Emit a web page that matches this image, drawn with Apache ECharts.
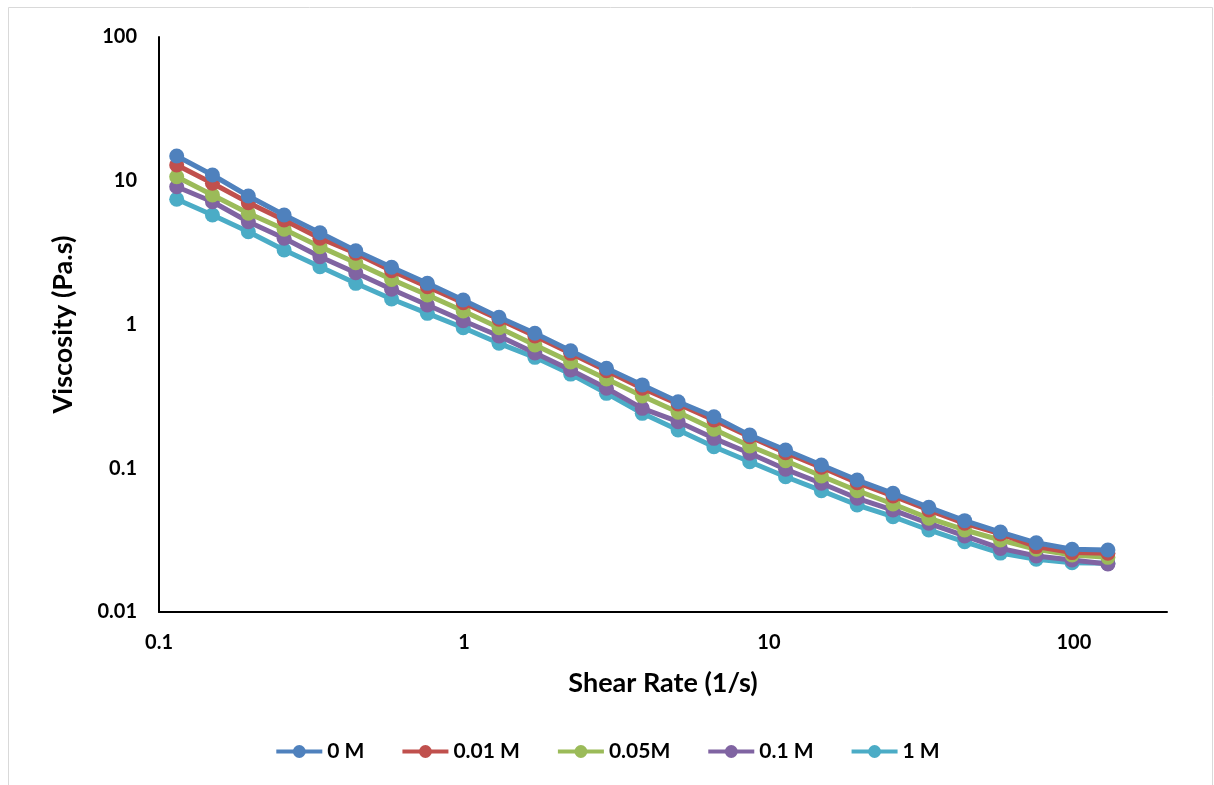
<!DOCTYPE html>
<html>
<head>
<meta charset="utf-8">
<script src="https://cdn.jsdelivr.net/npm/echarts@6/dist/echarts.min.js"></script>
<style>
html,body{margin:0;padding:0;background:#fff;}
#chart{width:1214px;height:785px;}
</style>
</head>
<body>
<div id="chart"></div>
<script>
// Shear rate (1/s)
var shearRate = [0.1143, 0.1497, 0.1963, 0.2572, 0.3371, 0.4417, 0.5789, 0.7587, 0.9943, 1.303,
  1.708, 2.238, 2.933, 3.843, 5.037, 6.601, 8.650, 11.34, 14.86, 19.47,
  25.52, 33.44, 43.83, 57.43, 75.27, 98.63, 129.3];
// Viscosity (Pa.s)
var visc0M = [14.86, 10.96, 7.83, 5.78, 4.35, 3.26, 2.50, 1.934, 1.481, 1.122,
  0.869, 0.657, 0.496, 0.380, 0.290, 0.228, 0.170, 0.134, 0.1053, 0.0828,
  0.0669, 0.0535, 0.0432, 0.0360, 0.0303, 0.0273, 0.0270];
var visc001M = [12.87, 9.60, 7.04, 5.33, 3.98, 3.13, 2.37, 1.832, 1.418, 1.087,
  0.832, 0.630, 0.477, 0.360, 0.280, 0.2166, 0.1658, 0.1283, 0.1015, 0.0793,
  0.0641, 0.0512, 0.0414, 0.0349, 0.0285, 0.0259, 0.0256];
var visc005M = [10.67, 7.96, 5.94, 4.60, 3.48, 2.69, 2.06, 1.604, 1.241, 0.950,
  0.720, 0.548, 0.418, 0.318, 0.245, 0.1866, 0.1428, 0.1128, 0.0883, 0.0698,
  0.0564, 0.0449, 0.0372, 0.0317, 0.0273, 0.0249, 0.0240];
var visc01M = [9.09, 7.15, 5.19, 3.98, 2.96, 2.29, 1.757, 1.367, 1.063, 0.832,
  0.633, 0.483, 0.360, 0.261, 0.2108, 0.1615, 0.1271, 0.0983, 0.0786, 0.0618,
  0.0512, 0.0414, 0.0338, 0.0277, 0.0245, 0.0230, 0.0216];
var visc1M = [7.43, 5.78, 4.42, 3.30, 2.52, 1.934, 1.504, 1.196, 0.950, 0.740,
  0.591, 0.452, 0.332, 0.241, 0.1845, 0.1412, 0.1110, 0.0873, 0.0698, 0.0555,
  0.0460, 0.0372, 0.0308, 0.0257, 0.0233, 0.0220, 0.0218];
var seriesNames = ['0 M', '0.01 M', '0.05M', '0.1 M', '1 M'];
var seriesValues = [visc0M, visc001M, visc005M, visc01M, visc1M];
var colors = ['#4F81BD', '#C0504D', '#9BBB59', '#8064A2', '#4BACC6'];

var FONT = 'Lato, "Open Sans", sans-serif';

function pow10Label(v) {
  var l = Math.log10(v);
  if (Math.abs(l - Math.round(l)) > 1e-6) return '';
  return String(+Math.pow(10, Math.round(l)).toPrecision(6));
}

var chart = echarts.init(document.getElementById('chart'));
chart.setOption({
  backgroundColor: '#fff',
  animation: false,
  color: colors,
  graphic: [{
    type: 'rect',
    shape: {x: 8.5, y: 7.5, width: 1204, height: 800},
    style: {fill: 'none', stroke: '#d9d9d9', lineWidth: 1},
    silent: true
  }],
  grid: {left: 159, right: 47, top: 37, bottom: 173, containLabel: false},
  xAxis: {
    type: 'log', logBase: 10, min: 0.1, max: 202,
    name: 'Shear Rate (1/s)', nameLocation: 'middle', nameGap: 58,
    nameTextStyle: {fontFamily: FONT, fontWeight: 'bold', fontSize: 27, color: '#000'},
    axisLine: {lineStyle: {color: '#000', width: 2}},
    axisTick: {show: false},
    splitLine: {show: false},
    minorTick: {show: false},
    axisLabel: {formatter: pow10Label, showMaxLabel: false, margin: 21,
      fontFamily: FONT, fontWeight: 'bold', fontSize: 20, color: '#000'}
  },
  yAxis: {
    type: 'log', logBase: 10, min: 0.01, max: 100,
    name: 'Viscosity (Pa.s)', nameLocation: 'middle', nameGap: 82, nameRotate: 90,
    nameTextStyle: {fontFamily: FONT, fontWeight: 'bold', fontSize: 27, color: '#000'},
    axisLine: {show: true, lineStyle: {color: '#000', width: 2}},
    axisTick: {show: false},
    splitLine: {show: false},
    axisLabel: {formatter: pow10Label, margin: 22,
      fontFamily: FONT, fontWeight: 'bold', fontSize: 20, color: '#000'}
  },
  legend: {
    bottom: 18, left: 'center',
    itemWidth: 46, itemHeight: 16, itemGap: 36,
    data: seriesNames,
    lineStyle: {width: 4},
    textStyle: {fontFamily: FONT, fontWeight: 'bold', fontSize: 21, color: '#000'}
  },
  series: seriesNames.map(function (name, i) {
    return {
      name: name, type: 'line',
      data: shearRate.map(function (x, j) { return [x, seriesValues[i][j]]; }),
      symbol: 'circle', symbolSize: 15, showSymbol: true,
      lineStyle: {width: 5, color: colors[i]},
      itemStyle: {color: colors[i]},
      z: 2 + (4 - i)
    };
  })
});
</script>
</body>
</html>
